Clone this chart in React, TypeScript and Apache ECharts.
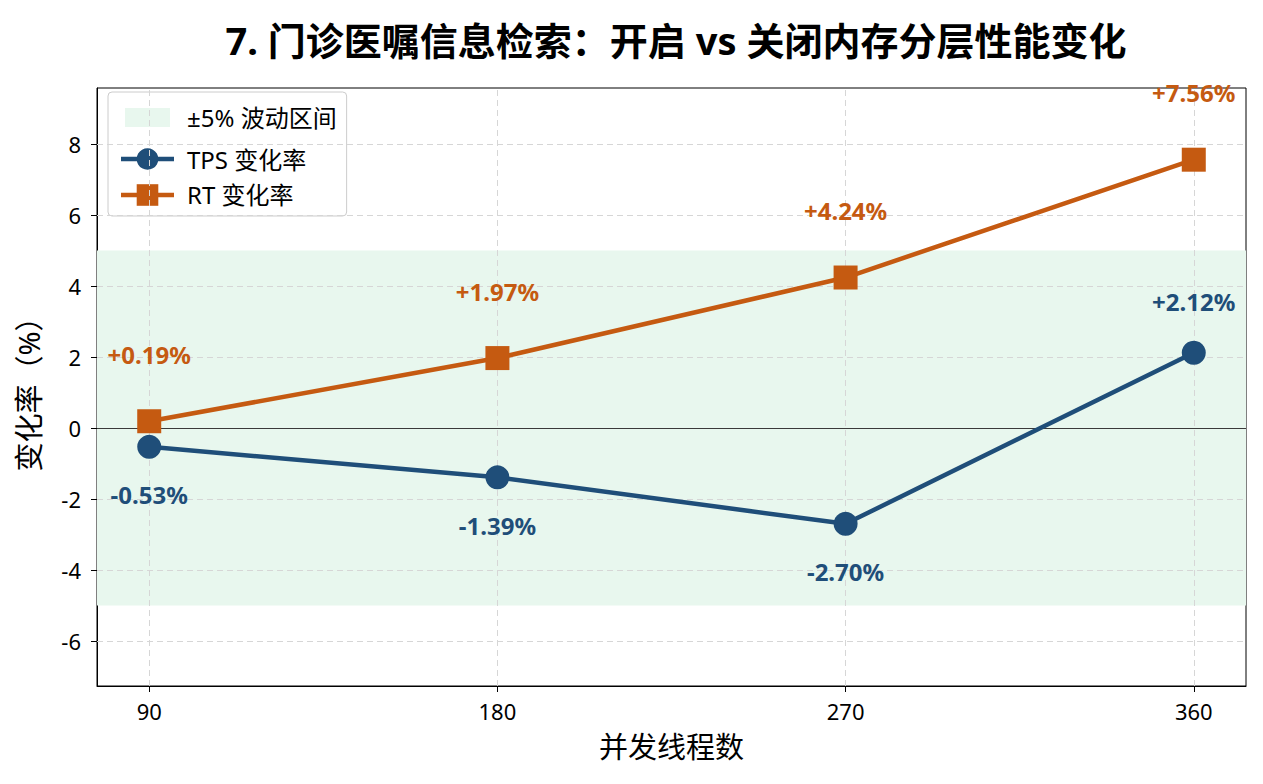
import React, { useEffect, useRef } from 'react';
import * as echarts from 'echarts';

const threads = [90, 180, 270, 360];
const tpsChange = [-0.53, -1.39, -2.7, 2.12];
const rtChange = [0.19, 1.97, 4.24, 7.56];
const yTicks = [-6, -4, -2, 0, 2, 4, 6, 8];
const bandLow = -5;
const bandHigh = 5;

const FONT = '"Noto Sans", "Noto Sans CJK SC", sans-serif';
const TPS_COLOR = '#1f4e79';
const RT_COLOR = '#c55a11';
const BAND_COLOR = '#e8f7ee';

const fmt = (v: number) => (v >= 0 ? '+' : '') + v.toFixed(2) + '%';

const App: React.FC = () => {
  const chartRef = useRef<HTMLDivElement>(null);

  useEffect(() => {
    if (!chartRef.current) return;
    const chart = echarts.init(chartRef.current, null, { renderer: 'svg' });

    const gridLine = { color: '#d6d6d6', type: [6, 4] as number[], width: 1 };

    const option: echarts.EChartsOption = {
      animation: false,
      textStyle: { fontFamily: FONT },
      title: {
        text: '7. 门诊医嘱信息检索：开启 vs 关闭内存分层性能变化',
        left: 671,
        textAlign: 'center',
        top: 16,
        textStyle: { fontFamily: FONT, fontSize: 38, fontWeight: 'bold', color: '#000' },
      },
      grid: {
        left: 97,
        right: 17,
        top: 88,
        bottom: 98,
        show: true,
        borderColor: '#000',
        borderWidth: 1,
        backgroundColor: 'transparent',
      },
      legend: {
        left: 108,
        top: 92,
        orient: 'vertical',
        backgroundColor: '#fff',
        borderColor: '#cccccc',
        borderWidth: 1,
        borderRadius: 4,
        padding: [8, 10, 9, 9],
        itemGap: 12,
        itemWidth: 53,
        itemHeight: 27,
        lineStyle: { width: 4.5 },
        textStyle: { fontFamily: FONT, fontSize: 24, color: '#000', padding: [0, 0, 0, 8] },
        data: [
          { name: '±5% 波动区间', icon: 'rect', itemStyle: { color: BAND_COLOR, borderColor: '#fff', borderWidth: 8 } },
          { name: 'TPS 变化率' },
          { name: 'RT 变化率' },
        ],
      },
      xAxis: {
        type: 'value',
        min: 76.5,
        max: 373.5,
        name: '并发线程数',
        nameLocation: 'middle',
        nameGap: 46,
        nameTextStyle: { fontFamily: FONT, fontSize: 29, color: '#000' },
        axisLine: { show: true, onZero: false, lineStyle: { color: '#000' } },
        axisTick: { show: true, customValues: threads, length: 6, lineStyle: { color: '#000' } },
        axisLabel: { customValues: threads, fontSize: 22, color: '#000', margin: 14 },
        splitLine: { show: false },
      },
      yAxis: {
        type: 'value',
        min: -7.27,
        max: 9.58,
        name: '变化率（%）',
        nameLocation: 'middle',
        nameGap: 54,
        nameTextStyle: { fontFamily: FONT, fontSize: 29, color: '#000' },
        axisLine: { show: true, lineStyle: { color: '#000' } },
        axisTick: { show: true, customValues: yTicks, length: 6, lineStyle: { color: '#000' } },
        axisLabel: { customValues: yTicks, fontSize: 22, color: '#000', margin: 16 },
        splitLine: { show: false },
      },
      series: [
        {
          name: '±5% 波动区间',
          type: 'line',
          data: [],
          silent: true,
          itemStyle: { color: BAND_COLOR },
          markArea: {
            silent: true,
            itemStyle: { color: BAND_COLOR },
            data: [[{ yAxis: bandLow }, { yAxis: bandHigh }]],
          },
          markLine: {
            silent: true,
            symbol: 'none',
            label: { show: false },
            lineStyle: gridLine,
            data: [
              ...threads.map((t) => ({ xAxis: t })),
              ...yTicks.map((t) => ({ yAxis: t })),
            ],
          },
        },
        {
          name: 'zero',
          type: 'line',
          data: [],
          markLine: {
            silent: true,
            symbol: 'none',
            label: { show: false },
            lineStyle: { color: '#3a3a3a', type: 'solid', width: 1.2 },
            data: [{ yAxis: 0 }],
          },
        },
        {
          name: 'TPS 变化率',
          type: 'line',
          z: 5,
          symbol: 'circle',
          symbolSize: 24,
          lineStyle: { color: TPS_COLOR, width: 4.5 },
          itemStyle: { color: TPS_COLOR },
          data: threads.map((t, i) => ({
            value: [t, tpsChange[i]],
            label: {
              show: true,
              position: tpsChange[i] >= 0 ? 'top' : 'bottom',
              distance: tpsChange[i] >= 0 ? 27 : 24,
              formatter: fmt(tpsChange[i]),
              color: TPS_COLOR,
              fontSize: 24,
              fontWeight: 'bold',
              fontFamily: FONT,
            },
          })),
        },
        {
          name: 'RT 变化率',
          type: 'line',
          z: 6,
          symbol: 'rect',
          symbolSize: 24,
          lineStyle: { color: RT_COLOR, width: 4.5 },
          itemStyle: { color: RT_COLOR },
          data: threads.map((t, i) => ({
            value: [t, rtChange[i]],
            label: {
              show: true,
              position: 'top',
              distance: 43,
              formatter: fmt(rtChange[i]),
              color: RT_COLOR,
              fontSize: 24,
              fontWeight: 'bold',
              fontFamily: FONT,
            },
          })),
        },
      ],
    };

    chart.setOption(option);
    const handleResize = () => chart.resize();
    window.addEventListener('resize', handleResize);
    return () => {
      window.removeEventListener('resize', handleResize);
      chart.dispose();
    };
  }, []);

  return <div ref={chartRef} style={{ width: 1263, height: 784, margin: -8 }} />;
};

export default App;
